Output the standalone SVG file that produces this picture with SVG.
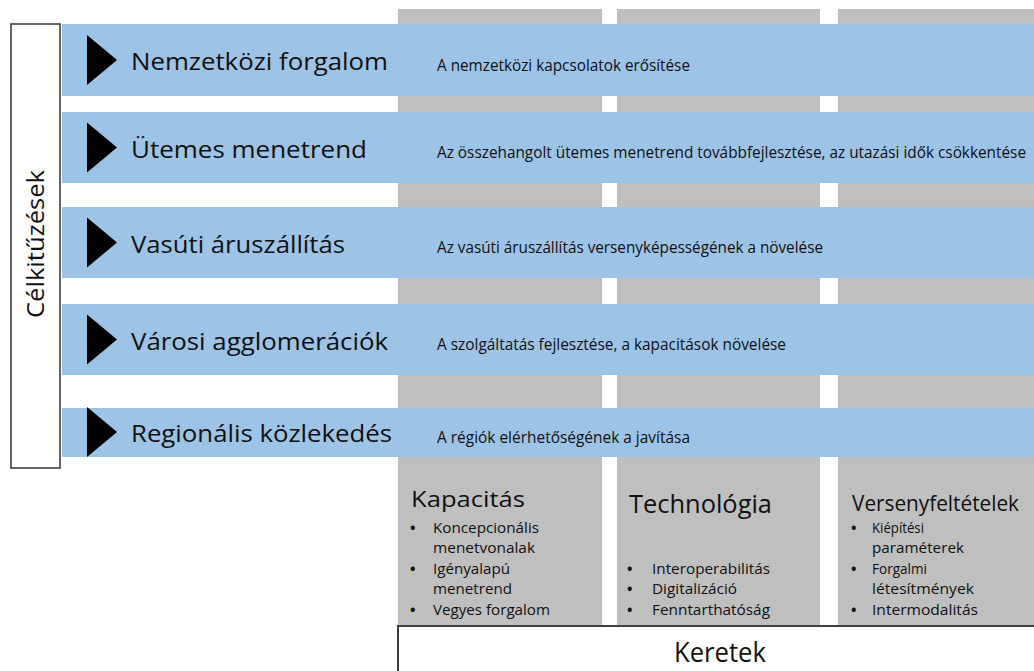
<svg xmlns="http://www.w3.org/2000/svg" width="1034" height="671" viewBox="0 0 1034 671">
<style>
  .col { fill: #bfbfbf; }
  .bar { fill: #9dc3e6; }
  .tri { fill: #000000; }
  .frame { fill: #ffffff; stroke: #404040; stroke-width: 1.6; }
  text { font-family: "Open Sans", "Noto Sans", "Liberation Sans", sans-serif; fill: #111111; }
  .title { font-size: 23.4px; }
  .desc { font-size: 15.4px; }
  .head { font-size: 22.4px; }
  .item { font-size: 14.5px; }
  .dot { font-size: 14.5px; font-weight: bold; }
</style>
<rect width="1034" height="671" fill="#ffffff"/>

<g id="columns">
  <rect class="col" x="398" y="9" width="204" height="618"/>
  <rect class="col" x="617" y="9" width="203" height="618"/>
  <rect class="col" x="838" y="9" width="196" height="618"/>
</g>

<g id="celkitutesek">
  <rect class="frame" x="11" y="24" width="49" height="444"/>
  <text class="title" transform="translate(44,318) rotate(-90)" textLength="148" lengthAdjust="spacingAndGlyphs">Célkitűzések</text>
</g>

<g id="row-nemzetkozi">
  <rect class="bar" x="62" y="24" width="972" height="72"/>
  <polygon class="tri" points="87,35 87,85 117,60"/>
  <text class="title" x="131" y="70" textLength="257" lengthAdjust="spacingAndGlyphs">Nemzetközi forgalom</text>
  <text class="desc" x="437" y="70.5" textLength="253" lengthAdjust="spacingAndGlyphs">A nemzetközi kapcsolatok erősítése</text>
</g>

<g id="row-utemes">
  <rect class="bar" x="62" y="112" width="972" height="71"/>
  <polygon class="tri" points="87,122.5 87,172.5 117,147.5"/>
  <text class="title" x="131" y="157.5" textLength="236" lengthAdjust="spacingAndGlyphs">Ütemes menetrend</text>
  <text class="desc" x="437" y="158" textLength="589" lengthAdjust="spacingAndGlyphs">Az összehangolt ütemes menetrend továbbfejlesztése, az utazási idők csökkentése</text>
</g>

<g id="row-vasuti">
  <rect class="bar" x="62" y="207" width="972" height="71"/>
  <polygon class="tri" points="87,217.5 87,267.5 117,242.5"/>
  <text class="title" x="131" y="252.5" textLength="214" lengthAdjust="spacingAndGlyphs">Vasúti áruszállítás</text>
  <text class="desc" x="437" y="253" textLength="386" lengthAdjust="spacingAndGlyphs">Az vasúti áruszállítás versenyképességének a növelése</text>
</g>

<g id="row-varosi">
  <rect class="bar" x="62" y="304" width="972" height="71"/>
  <polygon class="tri" points="87,314.5 87,364.5 117,339.5"/>
  <text class="title" x="131" y="349.5" textLength="257" lengthAdjust="spacingAndGlyphs">Városi agglomerációk</text>
  <text class="desc" x="437" y="350" textLength="349" lengthAdjust="spacingAndGlyphs">A szolgáltatás fejlesztése, a kapacitások növelése</text>
</g>

<g id="row-regionalis">
  <rect class="bar" x="62" y="408" width="972" height="49"/>
  <polygon class="tri" points="87,407 87,457 117,432"/>
  <text class="title" x="131" y="442" textLength="261" lengthAdjust="spacingAndGlyphs">Regionális közlekedés</text>
  <text class="desc" x="437" y="443" textLength="253" lengthAdjust="spacingAndGlyphs">A régiók elérhetőségének a javítása</text>
</g>

<g id="kapacitas">
  <text class="head" x="411" y="506.7" textLength="114" lengthAdjust="spacingAndGlyphs">Kapacitás</text>
  <text class="dot" x="410" y="532.7">•</text>
  <text class="item" x="433" y="532.7" textLength="106" lengthAdjust="spacingAndGlyphs">Koncepcionális</text>
  <text class="item" x="433" y="553.2" textLength="102" lengthAdjust="spacingAndGlyphs">menetvonalak</text>
  <text class="dot" x="410" y="573.7">•</text>
  <text class="item" x="433" y="573.7" textLength="77" lengthAdjust="spacingAndGlyphs">Igényalapú</text>
  <text class="item" x="433" y="594.2" textLength="79" lengthAdjust="spacingAndGlyphs">menetrend</text>
  <text class="dot" x="410" y="614.7">•</text>
  <text class="item" x="433" y="614.7" textLength="117" lengthAdjust="spacingAndGlyphs">Vegyes forgalom</text>
</g>

<g id="technologia">
  <text class="head" x="629" y="513.3" style="font-size:25.6px" textLength="143" lengthAdjust="spacingAndGlyphs">Technológia</text>
  <text class="dot" x="627" y="573.7">•</text>
  <text class="item" x="652" y="573.7" textLength="118" lengthAdjust="spacingAndGlyphs">Interoperabilitás</text>
  <text class="dot" x="627" y="594.2">•</text>
  <text class="item" x="652" y="594.2" textLength="85" lengthAdjust="spacingAndGlyphs">Digitalizáció</text>
  <text class="dot" x="627" y="614.7">•</text>
  <text class="item" x="652" y="614.7" textLength="118" lengthAdjust="spacingAndGlyphs">Fenntarthatóság</text>
</g>

<g id="versenyfeltetelek">
  <text class="head" x="852" y="510.5" style="font-size:21.5px" textLength="167" lengthAdjust="spacingAndGlyphs">Versenyfeltételek</text>
  <text class="dot" x="851" y="532.7">•</text>
  <text class="item" x="872" y="532.7" textLength="52" lengthAdjust="spacingAndGlyphs">Kiépítési</text>
  <text class="item" x="872" y="553.2" textLength="92" lengthAdjust="spacingAndGlyphs">paraméterek</text>
  <text class="dot" x="851" y="573.7">•</text>
  <text class="item" x="872" y="573.7" textLength="55" lengthAdjust="spacingAndGlyphs">Forgalmi</text>
  <text class="item" x="872" y="594.2" textLength="102" lengthAdjust="spacingAndGlyphs">létesítmények</text>
  <text class="dot" x="851" y="614.7">•</text>
  <text class="item" x="872" y="614.7" textLength="106" lengthAdjust="spacingAndGlyphs">Intermodalitás</text>
</g>

<g id="keretek">
  <rect class="frame" x="398" y="626" width="645" height="60" style="stroke-width:2"/>
  <text x="674" y="661.7" style="font-size:28px" textLength="92" lengthAdjust="spacingAndGlyphs">Keretek</text>
</g>

<g id="connectors"></g>
</svg>
